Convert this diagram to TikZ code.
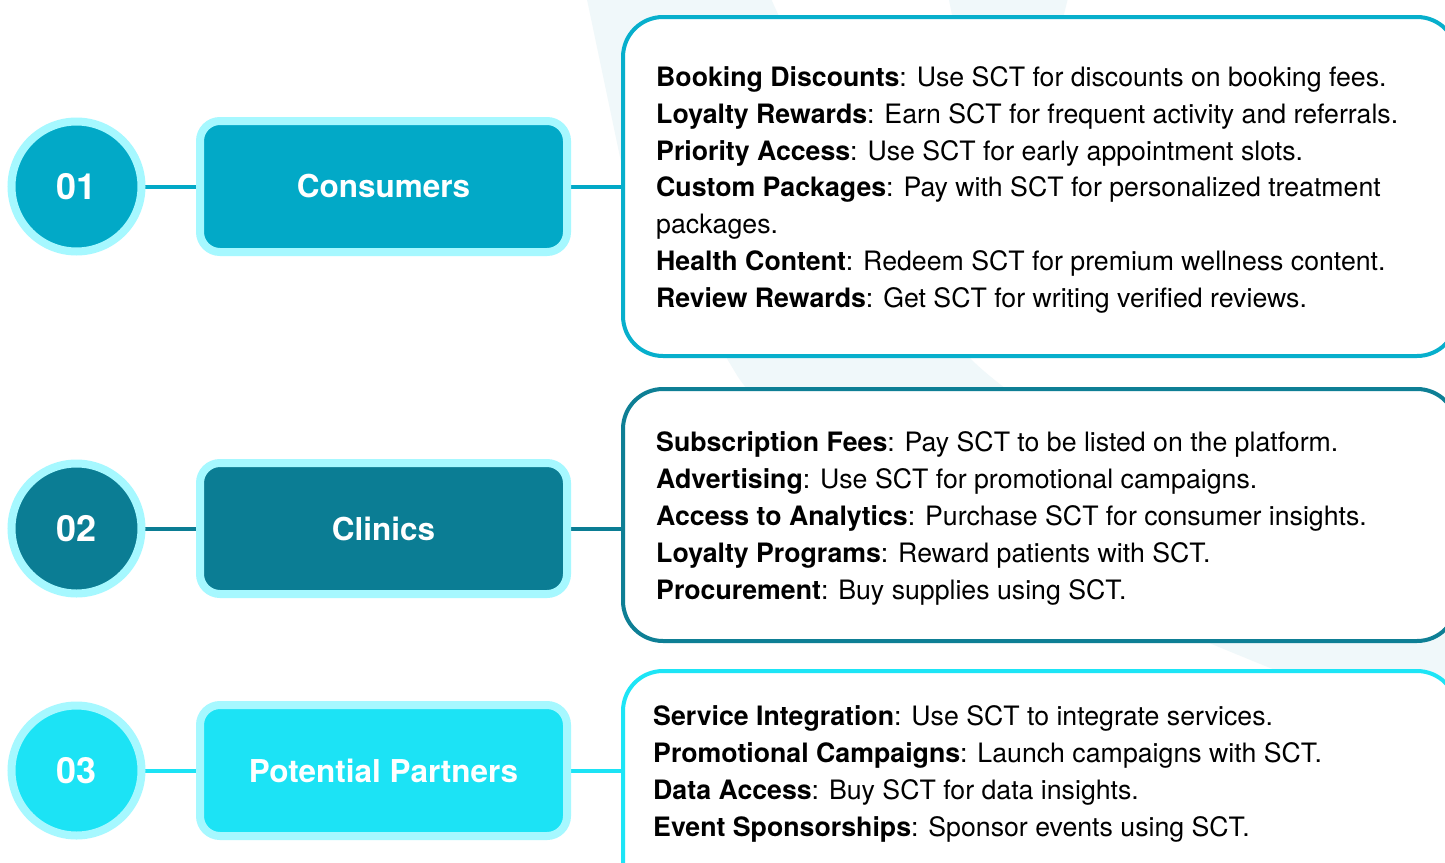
\documentclass[tikz,border=0pt]{standalone}
\usepackage{fontspec}
\setmainfont{TeX Gyre Heros}
\usetikzlibrary{backgrounds}
\definecolor{cA}{HTML}{02A9C7}
\definecolor{cB}{HTML}{0B7D94}
\definecolor{cC}{HTML}{1CE3F5}
\definecolor{rim}{HTML}{A6F8FF}
\definecolor{faint}{HTML}{F0F8FA}
\definecolor{pA}{HTML}{07AFCC}
\definecolor{pB}{HTML}{0E7F95}
\definecolor{pC}{HTML}{1DE5F6}
\begin{document}
\begin{tikzpicture}[x=1pt,y=-1pt,
  num/.style={circle, draw=rim, line width=8pt, minimum size=130pt, inner sep=0pt, outer sep=0pt,
    text=white, font=\fontsize{36}{40}\selectfont\bfseries},
  lbl/.style={rectangle, rounded corners=20pt, draw=rim, line width=8pt, minimum width=367pt,
    minimum height=131pt, inner sep=0pt, outer sep=0pt, text=white, font=\fontsize{31.5}{36}\selectfont\bfseries},
  panel/.style={rectangle, rounded corners=40pt, line width=4pt, fill=white, minimum width=834pt,
    inner sep=0pt, outer sep=0pt, anchor=north west},
  item/.style={anchor=base west, inner sep=0pt, font=\fontsize{26.7}{32}\selectfont},
  link/.style={line width=4pt}]
\useasboundingbox (0,0) rectangle (1445,862);

% number circles
\node[num, fill=cA] (n1) at (76.5,186.5) {01};
\node[num, fill=cB] (n2) at (76.5,528.5) {02};
\node[num, fill=cC] (n3) at (76.5,770.5) {03};

% label boxes
\node[lbl, fill=cA] (b1) at (383.5,186.5) {Consumers};
\node[lbl, fill=cB] (b2) at (383.5,528.5) {Clinics};
\node[lbl, fill=cC] (b3) at (383.5,770.5) {Potential Partners};

% panels
\node[panel, draw=pA, minimum height=339pt] (p1) at (623,17) {};
\node[panel, draw=pB, minimum height=252pt] (p2) at (623,389) {};
\node[panel, draw=pC, minimum height=250pt] (p3) at (623,671) {};

% panel 1 text
\node[item] (t11) at (656,86.5)  {\textbf{Booking Discounts}: Use SCT for discounts on booking fees.};
\node[item] (t12) at (656,123.3) {\textbf{Loyalty Rewards}: Earn SCT for frequent activity and referrals.};
\node[item] (t13) at (656,160.1) {\textbf{Priority Access}: Use SCT for early appointment slots.};
\node[item] (t14) at (656,196.9) {\textbf{Custom Packages}: Pay with SCT for personalized treatment};
\node[item] (t15) at (656,233.7) {packages.};
\node[item] (t16) at (656,270.5) {\textbf{Health Content}: Redeem SCT for premium wellness content.};
\node[item] (t17) at (656,307.3) {\textbf{Review Rewards}: Get SCT for writing verified reviews.};

% panel 2 text
\node[item] (t21) at (656,451.3) {\textbf{Subscription Fees}: Pay SCT to be listed on the platform.};
\node[item] (t22) at (656,488.3) {\textbf{Advertising}: Use SCT for promotional campaigns.};
\node[item] (t23) at (656,525.3) {\textbf{Access to Analytics}: Purchase SCT for consumer insights.};
\node[item] (t24) at (656,562.3) {\textbf{Loyalty Programs}: Reward patients with SCT.};
\node[item] (t25) at (656,599.3) {\textbf{Procurement}: Buy supplies using SCT.};

% panel 3 text
\node[item] (t31) at (653,725.3) {\textbf{Service Integration}: Use SCT to integrate services.};
\node[item] (t32) at (653,762.3) {\textbf{Promotional Campaigns}: Launch campaigns with SCT.};
\node[item] (t33) at (653,799.3) {\textbf{Data Access}: Buy SCT for data insights.};
\node[item] (t34) at (653,836.3) {\textbf{Event Sponsorships}: Sponsor events using SCT.};

\begin{pgfonlayer}{background}
  \fill[white] (0,0) rectangle (1445,862);
  % faint background decoration
  \fill[faint] (585,-10) -- (767,-10) .. controls (840,150) and (900,300) .. (985,372)
     .. controls (1100,470) and (1300,540) .. (1470,560) -- (1470,700) -- (1300,680)
     .. controls (1000,560) and (780,450) .. (735,372)
     .. controls (680,280) and (630,200) .. (620,157) -- cycle;
  \fill[faint] (947,-10) -- (1070,-10) -- (1060,30) -- (955,30) -- cycle;
  % connectors
  \draw[link, cA] (n1) -- (b1);
  \draw[link, cA] (b1) -- (b1 -| p1.west);
  \draw[link, cB] (n2) -- (b2);
  \draw[link, cB] (b2) -- (b2 -| p2.west);
  \draw[link, cC] (n3) -- (b3);
  \draw[link, cC] (b3) -- (b3 -| p3.west);
\end{pgfonlayer}
\end{tikzpicture}
\end{document}
